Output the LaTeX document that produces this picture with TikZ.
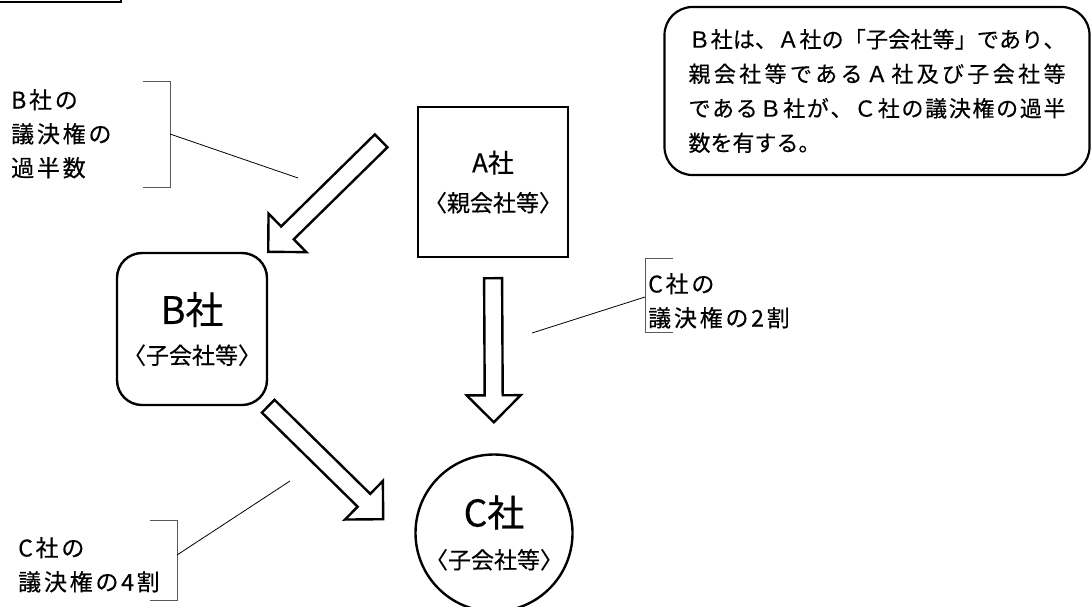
\documentclass[tikz,border=0pt]{standalone}
\usepackage{fontspec}
\setmainfont{Noto Sans CJK JP}[FakeBold=0.4]
\usetikzlibrary{calc}
\def\hollowarrow(#1)(#2){\coordinate (hb) at ($(#2)!27pt!(#1)$); \draw[fatarrow] ($(#1)!9pt!90:(#2)$) -- ($(hb)!9pt!90:(#2)$) -- ($(hb)!27pt!90:(#2)$) -- (#2) -- ($(hb)!27pt!-90:(#2)$) -- ($(hb)!9pt!-90:(#2)$) -- ($(#1)!9pt!-90:(#2)$) -- cycle;}
\def\spreadrest#1{\ifx#1\relax\else\hfil#1\expandafter\spreadrest\fi}
\def\spreadline#1#2\relax{#1\spreadrest#2\relax}
\newcommand\spread[1]{\makebox[377pt][s]{\spreadline#1\relax}}
\tikzset{
	fatarrow/.style={draw, line width=2.4pt, fill=white},
	company/.style={draw, line width=2.4pt, inner sep=0pt, align=center, font=\fontsize{23}{26}\selectfont},
	labeltext/.style={anchor=north west, inner sep=0pt, align=left, font=\fontsize{23}{34}\selectfont\addfontfeature{LetterSpace=12}},
	callout/.style={line width=1pt, color=black!65},
	leader/.style={line width=0.8pt}
}

\begin{document}
\begin{tikzpicture}[x=1pt, y=-1pt]
			%%%%% START %%%%%
			
			\useasboundingbox (0,0) rectangle (1092,606);
			\draw[line width=2.4pt] (-10,-10) rectangle (121,2);
			
			\node[company, minimum size=150pt] (A) at (493,182) {{\fontsize{26}{26}\selectfont A社}\\[13pt]〈親会社等〉};
			\node[company, rounded corners=25pt, minimum width=150pt, minimum height=152pt] (B) at (192,329) {{\fontsize{38}{26}\selectfont B社}\\[14pt]〈子会社等〉};
			\node[company, circle, minimum size=148pt] (C) at (494,533) {{\fontsize{37}{26}\selectfont C社}\\[16pt]〈子会社等〉};
			
			\node[draw, line width=2.2pt, rounded corners=28pt, minimum width=425pt, minimum height=168pt, inner sep=0pt, align=left, font=\fontsize{22}{33}\selectfont] (note) at (877,91) {\spread{Ｂ社は、Ａ社の「子会社等」であり、}\\[1.5pt]\spread{親会社等であるＡ社及び子会社等}\\[1.5pt]\spread{であるＢ社が、Ｃ社の議決権の過半}\\[1.5pt]数を有する。};
			
			\coordinate (ab-s) at ($(B.north east)!0.76!(A.north west)$);
			\hollowarrow(ab-s)(B.north east)
			\coordinate (ac-s) at ($(A.south)!20pt!(C.north)$);
			\coordinate (ac-t) at ($(C.north)!31pt!(A.south)$);
			\hollowarrow(ac-s)(ac-t)
			\coordinate (bc-t) at ($(B.south east)+(115,113)$);
			\hollowarrow(B.south east)(bc-t)
			
			\node[labeltext] (lab-b) at (11,89) {B社の\\議決権の\\過半数};
			\draw[callout] (143,81) -- (170,81) -- (170,187) -- (143,187);
			\coordinate (lab-b-m) at (170,134);
			\coordinate (lab-b-e) at (298,178);
			\draw[leader] (lab-b-m) -- (lab-b-e);
			
			\node[labeltext] (lab-a) at (648,273) {C社の\\議決権の2割};
			\draw[callout] (673,258) -- (645,258) -- (645,332) -- (673,332);
			\coordinate (lab-a-m) at (645,297);
			\coordinate (lab-a-e) at (532,333);
			\draw[leader] (lab-a-m) -- (lab-a-e);
			
			\node[labeltext] (lab-c) at (18,537) {C社の\\議決権の4割};
			\draw[callout] (150,520) -- (177,520) -- (177,600) -- (150,600);
			\coordinate (lab-c-m) at (177,555);
			\coordinate (lab-c-e) at (290,481);
			\draw[leader] (lab-c-m) -- (lab-c-e);
			
			%%%%% END %%%%%
\end{tikzpicture}
\end{document}
